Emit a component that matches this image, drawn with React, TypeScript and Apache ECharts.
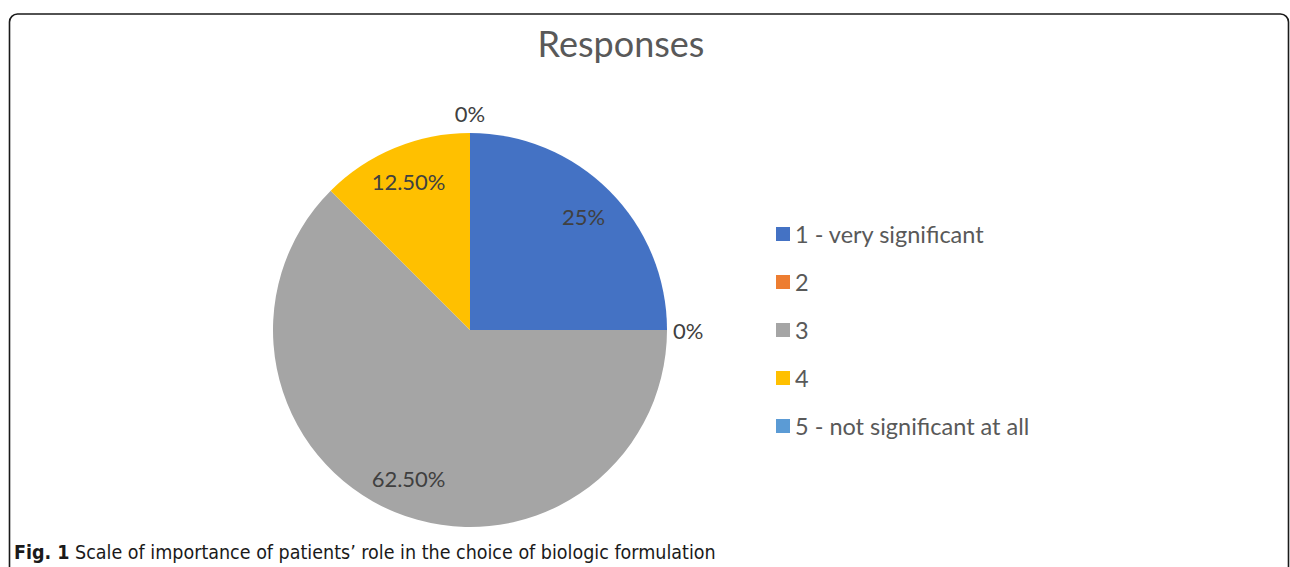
import React, { useEffect, useRef } from "react";
import * as echarts from "echarts";

const categories = ["1 - very significant", "2", "3", "4", "5 - not significant at all"];
const values = [25, 0, 62.5, 12.5, 0];
const colors = ["#4472C4", "#ED7D31", "#A5A5A5", "#FFC000", "#5B9BD5"];
const titleText = "Responses";
const captionBold = "Fig. 1";
const captionText = " Scale of importance of patients’ role in the choice of biologic formulation";

const fmt = (v: number) => (Number.isInteger(v) ? `${v}%` : `${v.toFixed(2)}%`);
const FONT = "Lato, 'Open Sans', sans-serif";
const CAP_FONT = "'DejaVu Sans Condensed', 'Liberation Sans Narrow', sans-serif";

export default function App() {
  const ref = useRef<HTMLDivElement>(null);
  useEffect(() => {
    document.body.style.margin = "0";
    const chart = echarts.init(ref.current!, undefined, { renderer: "svg" });
    const data = categories.map((name, i) => ({
      name,
      value: values[i],
      itemStyle: { color: colors[i] },
    }));
    chart.setOption({
      animation: false,
      backgroundColor: "#ffffff",
      title: {
        text: titleText,
        left: 616,
        textAlign: "center",
        top: 20,
        textStyle: { fontFamily: FONT, fontSize: 36, fontWeight: "normal", color: "#595959" },
      },
      legend: {
        orient: "vertical",
        left: 776,
        top: 220,
        padding: 0,
        itemWidth: 14,
        itemHeight: 14,
        itemGap: 20,
        icon: "rect",
        data: categories,
        textStyle: { fontFamily: FONT, fontSize: 23.5, color: "#595959", lineHeight: 28 },
      },
      graphic: [
        {
          type: "rect",
          shape: { x: 9.5, y: 14, width: 1279, height: 620, r: 8 },
          style: { fill: "none", stroke: "#1a1a1a", lineWidth: 1.6 },
          silent: true,
        },
        {
          type: "text",
          left: 14,
          top: 542,
          style: {
            text: `{b|${captionBold}}{n|${captionText}}`,
            rich: {
              b: { fontFamily: CAP_FONT, fontWeight: "bold", fontSize: 19.5, fill: "#1a1a1a" },
              n: { fontFamily: CAP_FONT, fontSize: 19.5, fill: "#1a1a1a" },
            },
          },
        },
      ],
      series: [
        {
          type: "pie",
          center: [470, 330],
          radius: [0, 197],
          startAngle: 90,
          clockwise: true,
          avoidLabelOverlap: false,
          stillShowZeroSum: true,
          data,
          label: {
            show: true,
            position: "outside",
            formatter: (p: any) => (p.value === 0 ? fmt(p.value) : ""),
            fontFamily: FONT,
            fontSize: 22,
            color: "#404040",
            distanceToLabelLine: 0,
          },
          labelLine: { show: false, length: 6, length2: 0 },
          labelLayout: (p: any) => (p.dataIndex === 4 ? { align: "center", dy: -14 } : {}),
        },
        {
          type: "pie",
          center: [470, 330],
          radius: [118, 197],
          startAngle: 90,
          clockwise: true,
          silent: true,
          avoidLabelOverlap: false,
          data: categories.map((name, i) => ({ name, value: values[i] })),
          itemStyle: { color: "rgba(0,0,0,0)" },
          label: {
            show: true,
            position: "inside",
            formatter: (p: any) => (p.value === 0 ? "" : fmt(p.value)),
            fontFamily: FONT,
            fontSize: 22,
            color: "#404040",
          },
          labelLine: { show: false },
        },
      ],
    });
    return () => chart.dispose();
  }, []);
  return <div ref={ref} style={{ width: 1290, height: 567 }} />;
}
